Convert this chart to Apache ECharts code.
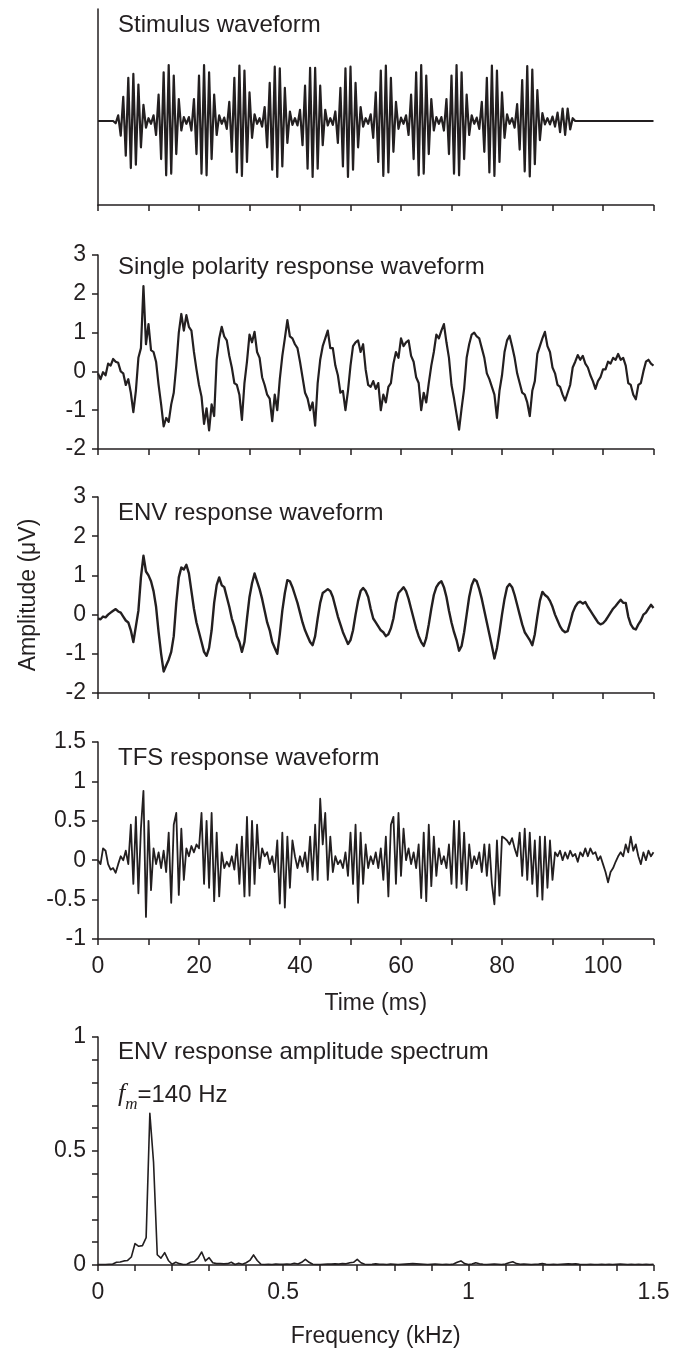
<!DOCTYPE html>
<html>
<head>
<meta charset="utf-8">
<script src="https://cdn.jsdelivr.net/npm/echarts@6/dist/echarts.min.js"></script>
<style>
html,body{margin:0;padding:0;background:#fff;}
#chart{width:681px;height:1351px;}
</style>
</head>
<body>
<div id="chart"></div>
<script>
// ---------------- DATA ----------------
// Panel titles
const panelTitles = ['Stimulus waveform', 'Single polarity response waveform', 'ENV response waveform', 'TFS response waveform', 'ENV response amplitude spectrum'];
const timeTicks = [0, 20, 40, 60, 80, 100];
const freqTicks = [0, 0.5, 1, 1.5];

// Stimulus waveform (arbitrary units), samples from 3.0 ms to 95.0 ms every 0.5 ms
const stimStart = 3.0, stimStep = 0.5;
const stimValues = [0,-0.04,0.10,-0.26,0.43,-0.62,0.77,-0.84,0.84,-0.78,0.65,-0.47,0.29,-0.12,0.05,-0.05,
0.10,-0.25,0.47,-0.68,0.87,-0.97,1.0,-0.94,0.81,-0.59,0.39,-0.17,0.07,-0.05,
0.07,-0.17,0.39,-0.59,0.81,-0.94,1.0,-0.97,0.87,-0.68,0.47,-0.25,0.10,-0.05,
0.06,-0.14,0.34,-0.55,0.77,-0.92,0.99,-0.98,0.90,-0.73,0.51,-0.30,0.12,-0.05,
0.05,-0.10,0.25,-0.47,0.68,-0.87,0.97,-1.0,0.94,-0.81,0.59,-0.39,0.17,-0.07,
0.05,-0.08,0.20,-0.43,0.63,-0.85,0.95,-1.0,0.95,-0.85,0.63,-0.43,0.20,-0.08,
0.05,-0.07,0.17,-0.39,0.59,-0.81,0.94,-1.0,0.97,-0.87,0.68,-0.47,0.25,-0.10,
0.05,-0.05,0.12,-0.30,0.51,-0.73,0.90,-0.98,0.99,-0.92,0.77,-0.55,0.34,-0.14,
0.06,-0.05,0.10,-0.25,0.47,-0.68,0.87,-0.97,1.0,-0.94,0.81,-0.59,0.39,-0.17,
0.07,-0.05,0.07,-0.17,0.39,-0.59,0.81,-0.94,1.0,-0.97,0.87,-0.68,0.47,-0.25,
0.10,-0.05,0.06,-0.14,0.34,-0.55,0.77,-0.92,0.99,-0.98,0.90,-0.73,0.51,-0.30,
0.12,-0.05,0.05,-0.12,0.30,-0.51,0.73,-0.90,0.98,-0.99,0.92,-0.77,0.55,-0.34,
0.14,-0.06,0.05,-0.06,0.08,-0.10,0.15,-0.20,0.22,-0.25,0.22,-0.15,0.05,0,0];

// Response waveforms (µV), samples from 0 to 110 ms every 0.5 ms
const respStep = 0.5;
const singleValues = [-0.05,-0.2,-0.02,-0.1,0.2,0.15,0.32,0.25,0.22,0.0,-0.05,-0.35,-0.2,-0.55,-1.05,-0.5,
0.35,0.6,2.2,0.7,1.22,0.55,0.5,0.25,-0.35,-0.85,-1.42,-1.2,-1.3,-0.85,-0.55,0.15,
1.0,1.48,1.05,1.45,1.15,1.05,0.5,0.05,-0.35,-0.65,-1.35,-0.95,-1.52,-0.85,-1.15,0.3,
0.85,1.15,0.9,0.8,0.4,0.1,-0.3,-0.35,-0.6,-1.25,-0.3,0.25,0.95,0.75,1.02,0.5,
0.35,-0.15,-0.35,-0.6,-0.7,-1.28,-0.6,-1.0,-0.2,0.4,0.85,1.32,0.9,0.85,0.7,0.6,
0.25,-0.15,-0.55,-0.7,-1.0,-0.8,-1.4,-0.3,0.3,0.65,0.85,1.05,0.6,0.6,0.15,-0.1,
-0.55,-0.5,-1.0,-0.5,0.15,0.65,0.75,0.8,0.5,0.7,0.05,-0.35,-0.4,-0.25,-0.45,-0.3,
-1.0,-0.6,-0.8,-0.4,-0.3,0.2,0.5,0.35,0.85,0.65,0.75,0.8,0.4,0.25,-0.15,-0.3,
-1.0,-0.55,-0.8,-0.3,0.15,0.5,0.95,0.85,1.05,1.22,0.75,0.35,-0.35,-0.7,-1.1,-1.5,
-0.95,-0.45,0.35,0.7,0.95,1.0,0.9,0.85,0.6,0.35,-0.05,-0.2,-0.4,-0.6,-1.2,-0.5,
-0.1,0.5,0.8,0.92,0.65,0.35,-0.05,-0.3,-0.55,-0.6,-0.8,-1.15,-0.5,-0.25,0.45,0.65,
0.85,1.02,0.65,0.5,0.1,-0.05,-0.35,-0.4,-0.6,-0.75,-0.55,-0.35,0.1,0.25,0.42,0.3,
0.4,0.2,0.1,-0.1,-0.25,-0.45,-0.25,-0.15,0.05,0.05,0.25,0.2,0.35,0.3,0.45,0.3,
0.35,0.15,-0.3,-0.35,-0.6,-0.72,-0.35,-0.3,0.0,0.25,0.3,0.2,0.15];

const envValues = [-0.1,-0.12,-0.05,-0.07,0.0,0.05,0.1,0.14,0.08,0.05,-0.05,-0.15,-0.2,-0.4,-0.7,-0.3,
0.1,0.95,1.5,1.1,1.0,0.85,0.6,0.2,-0.45,-1.0,-1.45,-1.3,-1.15,-0.95,-0.55,0.3,
0.95,1.2,1.15,1.27,1.05,0.6,0.15,-0.2,-0.45,-0.7,-0.95,-1.05,-0.85,-0.4,0.3,0.75,
0.95,0.75,0.7,0.45,0.2,-0.1,-0.3,-0.55,-0.7,-0.95,-0.7,-0.1,0.45,0.8,1.05,0.85,
0.65,0.4,0.1,-0.2,-0.4,-0.7,-0.85,-1.0,-0.5,0.1,0.55,0.88,0.85,0.7,0.5,0.3,
0.05,-0.2,-0.4,-0.55,-0.7,-0.78,-0.55,-0.1,0.3,0.55,0.6,0.65,0.6,0.45,0.2,-0.05,
-0.25,-0.45,-0.6,-0.75,-0.65,-0.4,0.0,0.35,0.6,0.68,0.6,0.45,0.15,-0.1,-0.2,-0.3,
-0.4,-0.45,-0.55,-0.5,-0.35,-0.1,0.3,0.55,0.62,0.7,0.6,0.4,0.15,-0.1,-0.35,-0.55,
-0.7,-0.8,-0.6,-0.25,0.15,0.5,0.7,0.8,0.85,0.7,0.45,0.1,-0.2,-0.45,-0.65,-0.92,
-0.8,-0.45,0.0,0.45,0.75,0.9,0.85,0.65,0.4,0.1,-0.2,-0.5,-0.8,-1.12,-0.85,-0.45,
0.0,0.4,0.7,0.78,0.7,0.5,0.25,0.0,-0.25,-0.45,-0.55,-0.65,-0.78,-0.5,-0.05,0.35,
0.58,0.5,0.45,0.35,0.2,0.0,-0.15,-0.3,-0.4,-0.45,-0.42,-0.2,0.05,0.2,0.3,0.33,
0.28,0.32,0.2,0.1,0.0,-0.1,-0.2,-0.25,-0.22,-0.15,-0.05,0.05,0.15,0.22,0.3,0.38,
0.3,0.3,-0.05,-0.25,-0.35,-0.38,-0.25,-0.15,0.0,0.05,0.15,0.25,0.17];

const tfsValues = [0.0,-0.05,0.15,0.12,-0.05,-0.12,-0.1,-0.16,-0.05,0.05,0.0,0.12,-0.05,0.45,-0.3,0.55,
-0.42,0.4,0.88,-0.72,0.5,-0.38,0.15,-0.05,0.1,-0.1,0.12,-0.15,0.35,-0.54,0.45,0.6,
-0.44,0.4,-0.25,0.15,0.05,0.18,0.1,0.2,0.15,0.6,-0.3,0.5,-0.35,0.6,-0.52,0.35,
-0.46,0.1,-0.1,-0.02,-0.08,0.05,-0.12,0.2,-0.3,0.3,-0.46,0.55,-0.45,0.5,-0.3,0.45,
-0.1,0.15,0.05,0.1,-0.05,0.05,-0.15,0.25,-0.55,0.35,-0.6,0.3,-0.35,0.25,0.05,-0.1,
0.05,-0.08,0.1,-0.15,0.3,-0.25,0.45,-0.25,0.78,0.2,0.6,-0.25,0.3,-0.15,0.05,-0.05,
0.0,-0.1,0.1,-0.2,0.35,-0.3,0.45,-0.54,0.35,-0.3,0.2,-0.1,0.05,-0.05,0.1,-0.1,
0.15,-0.25,0.3,-0.46,0.45,0.55,-0.3,0.6,-0.2,0.4,0.0,0.15,-0.05,0.1,-0.1,0.2,
-0.48,0.35,-0.52,0.45,-0.33,0.3,-0.2,0.15,-0.05,0.05,-0.1,0.2,-0.3,0.5,-0.35,0.5,
-0.3,0.35,-0.38,0.2,-0.1,0.05,-0.05,0.1,-0.15,0.2,-0.2,0.2,-0.3,-0.56,0.25,-0.45,
0.3,0.28,0.25,0.2,0.28,0.15,0.05,0.35,-0.2,0.4,-0.25,0.35,-0.3,0.25,-0.46,0.3,
-0.5,0.3,-0.35,0.25,-0.25,0.1,0.05,0.12,0.0,0.1,0.02,0.12,0.05,0.08,-0.02,0.1,
0.05,0.15,0.05,0.15,0.08,0.1,0.0,0.05,-0.05,-0.15,-0.28,-0.15,-0.1,-0.02,0.05,0.1,
0.05,0.2,0.1,0.3,0.12,0.2,0.05,-0.05,0.1,0.0,0.12,0.05,0.1];

// ENV amplitude spectrum (µV), 0 to 1.5 kHz every 0.01 kHz
const specStep = 0.01;
const specValues = [0.002,0.002,0.002,0.003,0.004,0.012,0.013,0.018,0.02,0.035,
0.094,0.082,0.085,0.12,0.665,0.45,0.045,0.03,0.054,0.02,
0.003,0.012,0.006,0.002,0.003,0.012,0.015,0.03,0.057,0.018,
0.032,0.01,0.006,0.006,0.005,0.006,0.012,0.002,0.008,0.003,
0.01,0.02,0.044,0.02,0.003,0.002,0.003,0.002,0.004,0.003,
0.003,0.004,0.003,0.008,0.004,0.012,0.025,0.012,0.003,0.002,
0.002,0.003,0.004,0.004,0.005,0.004,0.006,0.005,0.01,0.012,
0.025,0.01,0.003,0.002,0.003,0.005,0.003,0.003,0.002,0.004,
0.003,0.002,0.003,0.004,0.005,0.006,0.005,0.004,0.003,0.002,
0.003,0.004,0.003,0.002,0.003,0.002,0.004,0.012,0.018,0.006,
0.002,0.004,0.01,0.005,0.003,0.002,0.003,0.004,0.003,0.002,
0.004,0.01,0.014,0.006,0.003,0.004,0.003,0.002,0.003,0.004,
0.006,0.003,0.002,0.003,0.002,0.003,0.004,0.005,0.004,0.005,
0.003,0.002,0.002,0.003,0.002,0.002,0.003,0.002,0.003,0.002,
0.003,0.004,0.003,0.002,0.003,0.002,0.003,0.002,0.003,0.002,0.003];

// ---------------- BUILD ----------------
const INK = '#231f20';
const FONT = "'Liberation Sans', Arial, sans-serif";
function series(values, start, step) {
  return values.map((v, i) => [+(start + i * step).toFixed(3), v]);
}
const stimData = [[0, 0]].concat(series(stimValues, stimStart, stimStep)).concat([[110, 0]]);

const grids = [
  {left: 98, width: 555.5, top: 9, height: 196},
  {left: 98, width: 555.5, top: 255, height: 194},
  {left: 98, width: 555.5, top: 497, height: 196},
  {left: 98, width: 555.5, top: 742, height: 197},
  {left: 98, width: 555.5, top: 1037, height: 228}
];
const axLine = {show: true, onZero: false, lineStyle: {color: INK, width: 1.5}};
const axTick = {show: true, inside: false, length: 6, lineStyle: {color: INK, width: 1.5}};
const lbl = {color: INK, fontFamily: FONT, fontSize: 23};

const xAxis = [0, 1, 2, 3].map(i => ({
  type: 'value', gridIndex: i, min: 0, max: 110, interval: 10,
  axisLine: axLine, axisTick: axTick, splitLine: {show: false},
  axisLabel: Object.assign({show: i === 3, margin: 16,
    formatter: v => timeTicks.indexOf(v) >= 0 ? String(v) : ''}, lbl),
  name: i === 3 ? 'Time (ms)' : '', nameLocation: 'middle', nameGap: 53,
  nameTextStyle: lbl
}));
xAxis.push({
  type: 'value', gridIndex: 4, min: 0, max: 1.5, interval: 0.1,
  axisLine: axLine, axisTick: axTick, splitLine: {show: false},
  axisLabel: Object.assign({margin: 16, showMaxLabel: true,
    formatter: v => { const r = Math.round(v * 100) / 100; return freqTicks.indexOf(r) >= 0 ? String(r) : ''; }}, lbl),
  name: 'Frequency (kHz)', nameLocation: 'middle', nameGap: 60, nameTextStyle: lbl
});

const yAxis = [
  {type: 'value', gridIndex: 0, min: -1.5, max: 2, axisLine: axLine, axisTick: {show: false},
   axisLabel: {show: false}, splitLine: {show: false}},
  {type: 'value', gridIndex: 1, min: -2, max: 3, interval: 1, axisLine: axLine, axisTick: axTick,
   axisLabel: Object.assign({margin: 12}, lbl), splitLine: {show: false}},
  {type: 'value', gridIndex: 2, min: -2, max: 3, interval: 1, axisLine: axLine, axisTick: axTick,
   axisLabel: Object.assign({margin: 12}, lbl), splitLine: {show: false},
   name: 'Amplitude (\u03bcV)', nameLocation: 'middle', nameGap: 58, nameTextStyle: lbl},
  {type: 'value', gridIndex: 3, min: -1, max: 1.5, interval: 0.5, axisLine: axLine, axisTick: axTick,
   axisLabel: Object.assign({margin: 12}, lbl), splitLine: {show: false}},
  {type: 'value', gridIndex: 4, min: 0, max: 1, interval: 0.1, axisLine: axLine, axisTick: axTick,
   axisLabel: Object.assign({margin: 12, formatter: v => { const r = Math.round(v * 100) / 100; return (r === 0 || r === 0.5 || r === 1) ? String(r) : ''; }}, lbl),
   splitLine: {show: false}}
];

function line(idx, data, w) {
  return {type: 'line', xAxisIndex: idx, yAxisIndex: idx, data: data, showSymbol: false,
    symbol: 'none', lineStyle: {color: INK, width: w, join: 'round'}, silent: true, animation: false};
}

const titleTops = [13, 255, 501, 746, 1040];
const title = panelTitles.map((t, i) => ({
  text: t, left: 118, top: titleTops[i], padding: 0,
  textStyle: {color: INK, fontFamily: FONT, fontSize: 24, fontWeight: 'normal'}
}));
title.push({
  text: '{f|f}{m|m}{n|=140 Hz}', left: 118, top: 1081, padding: 0,
  textStyle: {fontWeight: 'normal', rich: {
    f: {fontFamily: "'Liberation Serif', serif", fontStyle: 'italic', fontWeight: 'normal', fontSize: 26, color: INK, verticalAlign: 'bottom'},
    m: {fontFamily: "'Liberation Serif', serif", fontStyle: 'italic', fontWeight: 'normal', fontSize: 17, color: INK, verticalAlign: 'bottom', padding: [0, 0, -6, 0]},
    n: {fontFamily: FONT, fontWeight: 'normal', fontSize: 24, color: INK, verticalAlign: 'bottom'}
  }}
});

const chart = echarts.init(document.getElementById('chart'), null, {renderer: 'canvas'});
chart.setOption({
  animation: false,
  backgroundColor: '#fff',
  title: title,
  grid: grids,
  xAxis: xAxis,
  yAxis: yAxis,
  series: [
    line(0, stimData, 2.2),
    line(1, series(singleValues, 0, respStep), 2.2),
    line(2, series(envValues, 0, respStep), 2.4),
    line(3, series(tfsValues, 0, respStep), 1.8),
    line(4, series(specValues, 0, specStep), 1.6)
  ]
});
</script>
</body>
</html>
